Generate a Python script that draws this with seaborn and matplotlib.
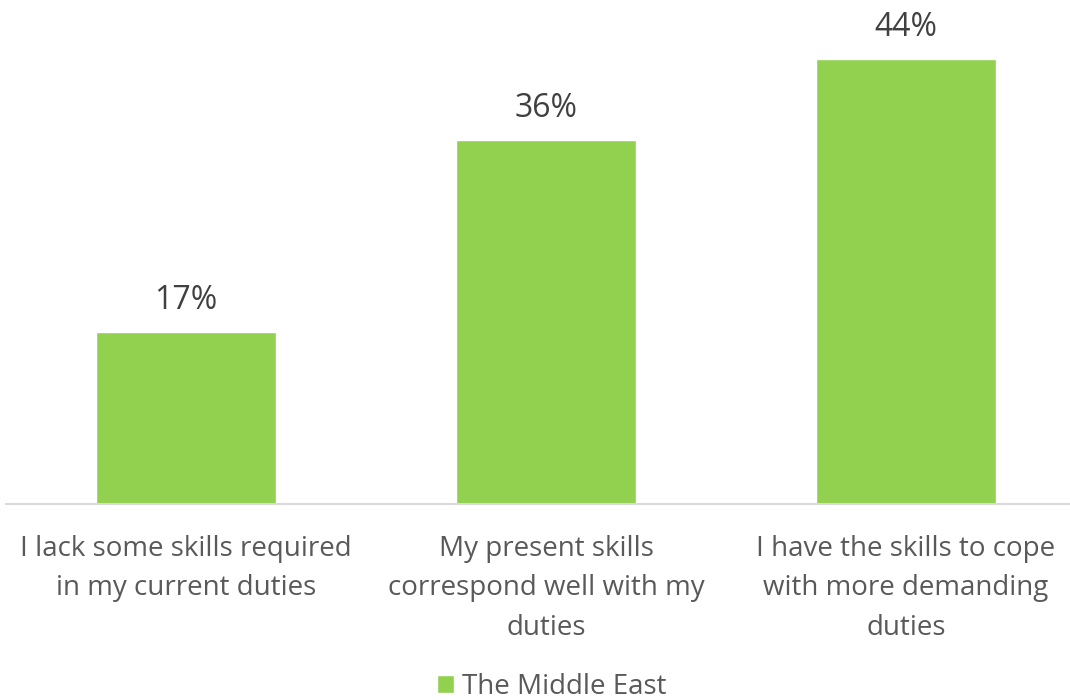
import matplotlib
matplotlib.use("Agg")
import matplotlib.pyplot as plt
import seaborn as sns
import pandas as pd

categories = ["I lack some skills required\nin my current duties",
              "My present skills\ncorrespond well with my\nduties",
              "I have the skills to cope\nwith more demanding\nduties"]
values = [17, 36, 44]
series_name = "The Middle East"

sns.set_theme(style="white")
plt.rcParams['font.family'] = ['Open Sans', 'DejaVu Sans']

df = pd.DataFrame({"cat": categories, "val": values, "series": series_name})

fig = plt.figure(figsize=(10.7, 7), dpi=100)
ax = fig.add_axes([6/1070, 1 - 504/700, 1064/1070, 504/700])
sns.barplot(data=df, x="cat", y="val", hue="series", palette=["#92D050"],
            saturation=1, width=0.5, ax=ax, legend=True)
ax.set_xlim(-0.5, -0.5 + 1064/360)
ax.set_ylim(0, 504/10.11)
for c in ax.containers:
    ax.bar_label(c, labels=[f"{v}%" for v in values], padding=11,
                 fontsize=23, color="#404040")
for s in ["top", "right", "left"]:
    ax.spines[s].set_visible(False)
ax.spines["bottom"].set_color("#D9D9D9")
ax.spines["bottom"].set_linewidth(1.5)
ax.set_yticks([])
ax.set_xlabel("")
ax.set_ylabel("")
ax.tick_params(axis="x", length=0, pad=22, labelsize=20, labelcolor="#595959")
for t in ax.get_xticklabels():
    t.set_linespacing(1.55)
leg = ax.legend(loc="center", bbox_to_anchor=(552/1070, 13/700),
                bbox_transform=fig.transFigure, frameon=False, fontsize=20,
                handlelength=0.6, handleheight=0.6, handletextpad=0.3)
for t in leg.get_texts():
    t.set_color("#595959")
fig.savefig("out.png", dpi=100)
